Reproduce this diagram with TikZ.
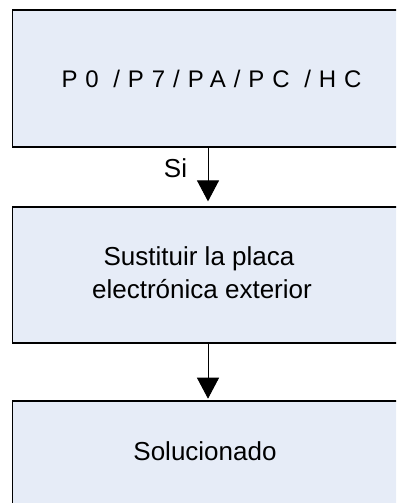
\documentclass[tikz,border=0pt]{standalone}
\usepackage{fontspec}
\setmainfont{Liberation Sans}
\newfontfamily\spaced[LetterSpace=33]{Liberation Sans}
\usetikzlibrary{arrows.meta}
\definecolor{boxfill}{RGB}{230,236,247}
\tikzset{
  flowbox/.style={draw=black, line width=1.2pt, fill=boxfill, rectangle,
    minimum width=391pt, inner sep=0pt},
  boxtext/.style={inner sep=0pt, anchor=base, font=\fontsize{26}{30}\selectfont},
  flowarrow/.style={draw=black, line width=0.9pt,
    -{Triangle[length=21pt,width=22pt]}}
}
\begin{document}
\begin{tikzpicture}[x=1pt,y=-1pt]
\clip (0,0) rectangle (396,503);
\fill[white] (0,0) rectangle (396,503);
\node[flowbox, minimum height=137pt] (b1) at (208,78.5) {};
\node[flowbox, minimum height=136pt] (b2) at (208,275) {};
\node[flowbox, minimum height=104pt] (b3) at (208,453) {};
\node[boxtext, font=\fontsize{24}{28}\spaced] (t1) at (211.5,87) {P0 /P7/PA/PC /HC};
\node[boxtext] (t2a) at (199,265.7) {Sustituir la placa};
\node[boxtext] (t2b) at (202,298.3) {electrónica exterior};
\node[boxtext] (t3) at (205,460) {Solucionado};
\draw[flowarrow, shorten >=5pt] (b1.south) -- (b2.north);
\draw[flowarrow, shorten >=1.7pt] (b2.south) -- (b3.north);
\node[boxtext] (si) at (175.5,177.3) {Si};
\end{tikzpicture}
\end{document}
